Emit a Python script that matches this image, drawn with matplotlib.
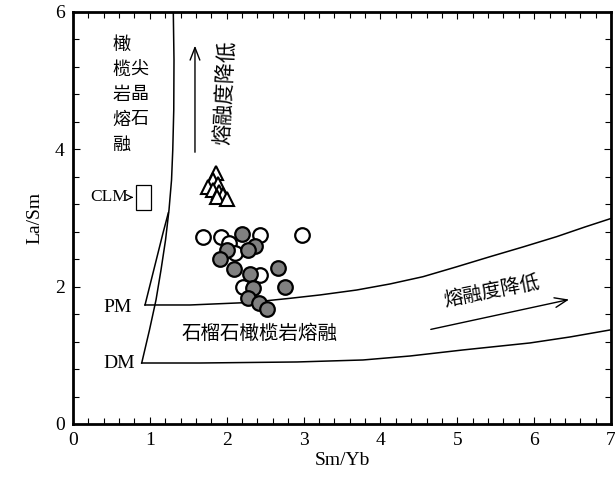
import matplotlib
matplotlib.use("Agg")
import matplotlib.pyplot as plt
from matplotlib.patches import Rectangle
from matplotlib.ticker import MultipleLocator

plt.rcParams['font.family'] = ['Liberation Serif', 'Noto Sans CJK SC', 'DejaVu Sans']
CJK = ['Noto Sans CJK SC', 'DejaVu Sans']

# ---- data ----
# open circles
open_x = [1.691, 1.926, 2.439, 2.986, 2.036, 2.114, 2.433, 2.218]
open_y = [2.723, 2.716, 2.752, 2.745, 2.636, 2.483, 2.163, 1.988]
# gray circles
gray_x = [2.195, 2.000, 1.913, 2.374, 2.277, 2.101, 2.303, 2.665, 2.348, 2.752, 2.279, 2.423, 2.518]
gray_y = [2.760, 2.534, 2.403, 2.592, 2.534, 2.257, 2.184, 2.267, 1.985, 1.991, 1.828, 1.755, 1.679]
# triangles
tri_x = [1.857, 1.825, 1.760, 1.890, 1.825, 1.900, 1.955, 1.870, 2.000]
tri_y = [3.655, 3.553, 3.451, 3.495, 3.408, 3.378, 3.335, 3.306, 3.277]

# model curves
curveA_x = [1.305, 1.314, 1.311, 1.298, 1.282, 1.249, 1.204, 1.145, 1.080, 0.995, 0.894]
curveA_y = [6.000, 5.301, 4.573, 3.990, 3.553, 3.116, 2.679, 2.243, 1.806, 1.369, 0.888]
curveB_x = [0.937, 1.171, 1.240]
curveB_y = [1.733, 2.781, 3.073]
pm_x = [0.937, 1.522, 2.303, 2.823, 3.214, 3.691, 4.124, 4.554, 4.983, 5.425, 5.855, 6.293, 6.661, 7.009]
pm_y = [1.733, 1.733, 1.770, 1.830, 1.879, 1.951, 2.039, 2.145, 2.286, 2.436, 2.578, 2.728, 2.869, 2.996]
dm_x = [0.894, 1.652, 2.914, 3.773, 4.385, 5.074, 5.946, 6.466, 6.987]
dm_y = [0.888, 0.888, 0.903, 0.932, 0.990, 1.078, 1.180, 1.267, 1.369]

clm_box = (0.820, 3.122, 0.191, 0.354)  # x, y, w, h

fig = plt.figure(figsize=(6.15, 4.83), dpi=100)
ax = fig.add_axes([0.1187, 0.1222, 0.8748, 0.853])

lw = 1.1
ax.plot(curveA_x, curveA_y, color='black', lw=lw)
ax.plot(curveB_x, curveB_y, color='black', lw=lw)
ax.plot(pm_x, pm_y, color='black', lw=lw)
ax.plot(dm_x, dm_y, color='black', lw=lw)

ax.add_patch(Rectangle(clm_box[:2], clm_box[2], clm_box[3], fill=False,
                       edgecolor='black', lw=0.9))

ax.plot(open_x, open_y, 'o', ms=10.5, mfc='white', mec='black', mew=1.6, ls='none', zorder=3)
ax.plot(gray_x, gray_y, 'o', ms=10.5, mfc='#808080', mec='black', mew=1.6, ls='none', zorder=4)
ax.plot(tri_x, tri_y, '^', ms=9.5, mfc='white', mec='black', mew=1.5, ls='none', zorder=5)

# arrows
ap = dict(arrowstyle='->,head_length=0.9,head_width=0.35', color='black', lw=1.0)
ax.annotate('', xy=(1.587, 5.55), xytext=(1.587, 3.917), arrowprops=ap)
ax.annotate('', xy=(6.49, 1.821), xytext=(4.62, 1.369), arrowprops=ap)
ax.annotate('', xy=(0.82, 3.30), xytext=(0.72, 3.30),
            arrowprops=dict(arrowstyle='->,head_length=0.4,head_width=0.2', color='black', lw=0.9))

# texts
ax.text(0.716, 3.30, 'CLM', ha='right', va='center', fontsize=12.5)
ax.text(0.768, 1.69, 'PM', ha='right', va='center', fontsize=14)
ax.text(0.807, 0.888, 'DM', ha='right', va='center', fontsize=14)

ax.text(0.625, 4.79, '橄\n榄\n岩\n熔\n融', family=CJK, fontsize=13, ha='center', va='center',
        linespacing=1.5)
ax.text(0.86, 4.806, '尖\n晶\n石', family=CJK, fontsize=13, ha='center', va='center',
        linespacing=1.5)
ax.text(1.98, 4.83, '熔融度降低', family=CJK, fontsize=15, rotation=87,
        ha='center', va='center')
ax.text(5.45, 1.93, '熔融度降低', family=CJK, fontsize=14, rotation=11,
        ha='center', va='center')
ax.text(2.433, 1.325, '石榴石橄榄岩熔融', family=CJK, fontsize=14,
        ha='center', va='center')

ax.set_xlim(0, 7)
ax.set_ylim(0, 6)
ax.xaxis.set_major_locator(MultipleLocator(1))
ax.xaxis.set_minor_locator(MultipleLocator(0.2))
ax.yaxis.set_major_locator(MultipleLocator(2))
ax.yaxis.set_minor_locator(MultipleLocator(0.4))
ax.tick_params(which='both', direction='in', top=True, right=True, width=0.8)
ax.tick_params(which='major', length=5, labelsize=14, pad=6)
ax.tick_params(which='minor', length=4)
for s in ax.spines.values():
    s.set_linewidth(2.0)

ax.set_xlabel('Sm/Yb', fontsize=14, labelpad=2)
ax.set_ylabel('La/Sm', fontsize=14, labelpad=8)

fig.savefig('out.png', dpi=100)
